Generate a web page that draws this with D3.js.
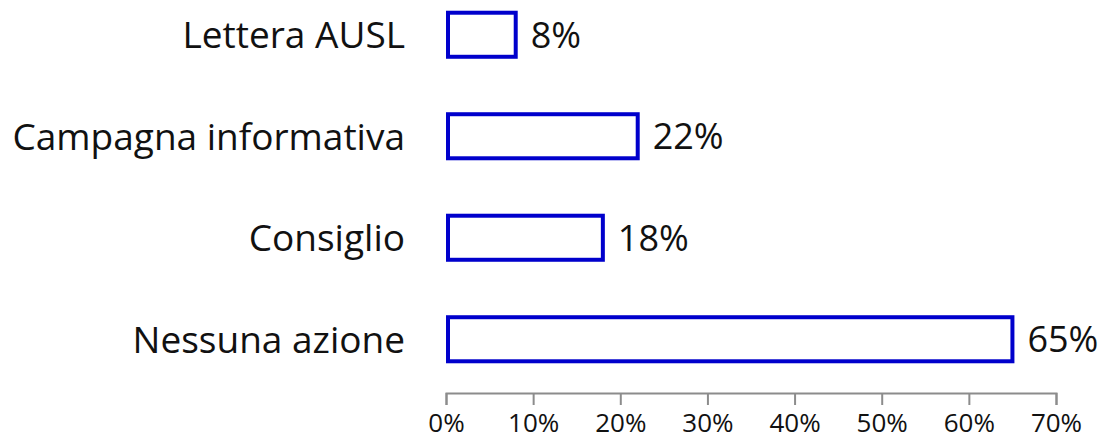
<!DOCTYPE html>
<meta charset="utf-8">
<style>
body { margin: 0; background: #fff; }
.bar { fill: #fff; stroke: #0000cc; stroke-width: 4px; }
.cat { font-family: "Open Sans", sans-serif; font-size: 37px; fill: #111; }
.val { font-family: "Open Sans", sans-serif; font-size: 36px; fill: #111; }
.axis text { font-family: "Open Sans", sans-serif; font-size: 26px; fill: #111; }
.axis path, .axis line { stroke: #8c8c8c; stroke-width: 2px; }
</style>
<body>
<script src="https://d3js.org/d3.v7.min.js"></script>
<script>

// data
var categories = ["Lettera AUSL", "Campagna informativa", "Consiglio", "Nessuna azione"];
var values = [0.08, 0.22, 0.18, 0.65];
var ticks = [0, 0.1, 0.2, 0.3, 0.4, 0.5, 0.6, 0.7];

var width = 1102, height = 439;

var svg = d3.select("body").append("svg")
    .attr("width", width)
    .attr("height", height);

// scales
var x = d3.scaleLinear().domain([0, 0.7]).range([446, 1056]);
var y = d3.scaleBand().domain(categories).range([-16, 390]).paddingInner(0.566).paddingOuter(0.283);

var data = categories.map(function(c, i) { return {cat: c, v: values[i]}; });

// bars
svg.selectAll(".bar")
    .data(data)
  .enter().append("rect")
    .attr("class", "bar")
    .attr("x", x(0) + 2)
    .attr("y", function(d) { return y(d.cat); })
    .attr("width", function(d) { return x(d.v) - x(0) - 2; })
    .attr("height", y.bandwidth());

// value labels
svg.selectAll(".val")
    .data(data)
  .enter().append("text")
    .attr("class", "val")
    .attr("x", function(d) { return x(d.v) + 15; })
    .attr("y", function(d) { return y(d.cat) + y.bandwidth() / 2; })
    .attr("dy", "0.36em")
    .text(function(d) { return Math.round(d.v * 100) + "%"; });

// category labels
svg.selectAll(".cat")
    .data(data)
  .enter().append("text")
    .attr("class", "cat")
    .attr("x", x(0) - 41)
    .attr("y", function(d) { return y(d.cat) + y.bandwidth() / 2; })
    .attr("dy", "0.36em")
    .attr("text-anchor", "end")
    .text(function(d) { return d.cat; });

// x axis
svg.append("g")
    .attr("class", "axis")
    .attr("transform", "translate(0,393)")
    .call(d3.axisBottom(x)
      .tickValues(ticks)
      .tickSize(12)
      .tickPadding(9)
      .tickFormat(d3.format(".0%")));

</script>
</body>
